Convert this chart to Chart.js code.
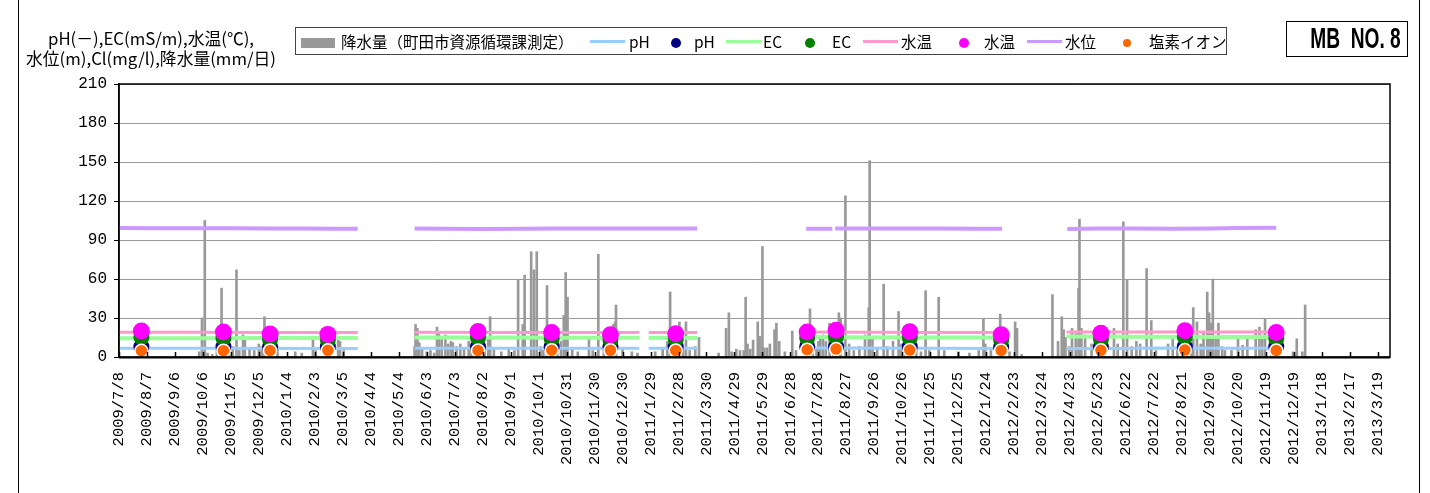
<!DOCTYPE html>
<html>
<head>
<meta charset="utf-8">
<script src="https://cdn.jsdelivr.net/npm/chart.js@4.4.0/dist/chart.umd.min.js"></script>
<style>
  body { margin: 0; background: #fff; }
  #wrap { position: relative; width: 1430px; height: 493px; overflow: hidden; font-family: "Noto Sans CJK JP", sans-serif; color: #000; }
  #frame { position: absolute; left: 18px; top: -2px; width: 1402px; height: 497px; border-left: 1px solid #000; border-right: 1px solid #000; box-sizing: border-box; }
  #chart { position: absolute; left: 0; top: 0; }
  #ytitle { position: absolute; left: 18px; top: 28px; width: 266px; text-align: center; font-size: 16.8px; line-height: 20px; white-space: nowrap; }
  #legend { position: absolute; left: 295px; top: 27px; width: 932px; height: 28px; border: 1px solid #444; box-sizing: border-box; }
  #legend .t { position: absolute; top: 3px; font-size: 15.5px; line-height: 20px; white-space: nowrap; }
  #legend .ln { position: absolute; top: 12px; width: 35px; height: 3px; }
  #legend .dot { position: absolute; border-radius: 50%; }
  #mb { position: absolute; left: 1286px; top: 21px; width: 122px; height: 36px; border: 1.5px solid #000; box-sizing: border-box; text-align: center; overflow: hidden; }
  #mb span { display: inline-block; font-family: "Liberation Sans", sans-serif; font-weight: bold; font-size: 29px; line-height: 33px; white-space: pre; transform: scaleX(0.66); transform-origin: center; }
</style>
</head>
<body>
<div id="wrap">
  <canvas id="chart" width="1430" height="493"></canvas>
  <div id="frame"></div>
  <div id="ytitle">pH(－),EC(mS/m),水温(℃),<br>水位(m),Cl(mg/l),降水量(mm/日)</div>
  <div id="legend"></div>
  <div id="mb"><span>MB  NO. 8</span></div>
</div>
<script>
// x axis runs in days counted from 2009/7/8
const startDate = '2009/7/8';
const endDate = '2013/4/1';

const tickLabels = ['2009/7/8','2009/8/7','2009/9/6','2009/10/6','2009/11/5','2009/12/5',
  '2010/1/4','2010/2/3','2010/3/5','2010/4/4','2010/5/4','2010/6/3','2010/7/3','2010/8/2','2010/9/1',
  '2010/10/1','2010/10/31','2010/11/30','2010/12/30','2011/1/29','2011/2/28','2011/3/30','2011/4/29',
  '2011/5/29','2011/6/28','2011/7/28','2011/8/27','2011/9/26','2011/10/26','2011/11/25','2011/12/25',
  '2012/1/24','2012/2/23','2012/3/24','2012/4/23','2012/5/23','2012/6/22','2012/7/22','2012/8/21',
  '2012/9/20','2012/10/20','2012/11/19','2012/12/19','2013/1/18','2013/2/17','2013/3/19'];

// daily rainfall [day, mm]
const rainfall = [
  [86,4],[89,30],[92,105],[95,3],[100,2],[105,6],[110,53],[113,4],[118,5],[122,8],[126,67],[129,5],
  [133,17],[135,15],[140,7],[145,5],[150,10],[153,8],[156,31],[158,14],[163,5],[170,8],[189,4],[196,3],
  [208,16],[211,5],[225,3],[235,16],[237,12],[241,5],
  [317,8],[318,25],[320,22],[322,11],[325,6],[330,4],[334,5],[338,3],[341,23],[343,19],[346,14],
  [350,17],[353,10],[356,12],[358,11],[362,8],[366,10],[370,6],[375,12],[378,8],[383,6],[388,10],
  [392,5],[396,14],[398,31],[402,6],[410,4],[418,7],[424,5],[428,59],[433,25],[435,63],[442,81],
  [445,67],[448,81],[452,8],[455,5],[459,55],[463,6],[470,8],[474,12],[477,32],[479,65],[481,46],
  [486,6],[492,4],[504,15],[508,5],[514,79],[520,5],[526,8],[530,25],[532,27],[533,40],[540,6],
  [550,4],[556,3],[575,4],[583,6],[588,12],[591,50],[595,8],[598,10],[601,27],[605,6],[608,27],
  [612,5],[618,8],[622,15],
  [643,3],[651,22],[654,34],[657,4],[662,6],[666,5],[670,5],[672,46],[674,10],[677,6],[680,13],
  [685,27],[687,16],[690,85],[692,7],[695,7],[698,10],[703,21],[705,26],[708,12],[714,4],[722,20],
  [726,5],[735,4],[741,37],[744,10],[748,6],[750,12],[752,15],[755,17],[758,12],[762,26],[766,8],
  [772,34],[774,30],[779,124],[783,10],[788,5],[794,8],[800,17],[804,38],[805,151],[808,15],[813,7],
  [820,56],[824,8],[830,12],[836,35],[839,10],[843,6],[855,8],[860,4],[865,51],[869,5],[879,46],
  [885,5],[900,4],[912,3],[922,5],[927,29],[929,10],[935,5],[945,33],[947,15],[955,4],[961,27],
  [963,22],[968,2],
  [1001,48],[1007,12],[1011,31],[1013,21],[1015,15],[1019,8],[1022,22],[1026,18],[1029,53],[1030,106],
  [1032,22],[1036,17],[1043,10],[1050,15],[1057,12],[1067,22],[1071,10],[1077,104],[1081,59],[1086,8],
  [1091,12],[1095,10],[1102,68],[1107,28],[1112,5],[1125,10],[1130,14],[1135,5],[1146,19],[1150,8],
  [1152,38],[1156,27],[1160,10],[1163,19],[1167,50],[1169,34],[1171,26],[1173,60],[1176,15],[1179,26],
  [1183,8],[1186,5],[1193,5],[1200,15],[1205,9],[1210,14],[1219,21],[1223,23],[1226,17],[1229,29],
  [1236,20],[1259,4],[1263,14],[1269,4],[1272,40]
];

// logger lines [day, value]; null value = gap
const levelLine = [
  [0,99.2],[40,99.1],[80,99.0],[120,99.0],[160,98.9],[200,98.8],[230,98.7],[256,98.6],[287,null],
  [317,98.8],[350,98.7],[390,98.5],[430,98.7],[470,98.8],[510,98.8],[550,98.9],[590,98.8],[620,98.8],[680,null],
  [737,98.6],[765,98.6],[766,null],[768,98.8],[800,98.9],[840,98.9],[880,98.8],[920,98.7],[947,98.7],[980,null],
  [1017,98.4],[1050,98.8],[1090,98.8],[1130,98.7],[1170,98.9],[1200,99.2],[1241,99.5]
];
const tempLine = [
  [0,19.0],[80,19.0],[160,18.9],[256,18.8],[287,null],
  [317,19.0],[400,18.9],[480,18.9],[558,18.8],[563,null],[568,18.8],[620,18.8],[680,null],
  [737,19.2],[800,19.0],[880,18.9],[947,18.9],[980,null],
  [1016,19.3],[1100,19.2],[1180,19.3],[1240,19.3]
];
const ecLine = [
  [0,14.4],[80,14.5],[160,14.7],[256,14.6],[287,null],
  [317,15.0],[400,15.0],[480,14.9],[558,14.8],[563,null],[568,14.8],[620,14.6],[680,null],
  [737,15.6],[780,15.2],[880,15.0],[947,15.0],[980,null],
  [1016,15.8],[1100,15.6],[1180,15.4],[1240,15.3]
];
const phLine = [
  [0,6.7],[100,6.7],[256,6.6],[287,null],
  [317,6.7],[480,6.8],[558,6.8],[563,null],[568,6.8],[620,6.7],[680,null],
  [737,7.0],[780,6.9],[880,6.7],[947,6.6],[980,null],
  [1016,6.6],[1080,6.5],[1100,6.9],[1240,6.8]
];

// spot measurements
const sampleDays = [24,112,162,224,385,464,527,597,738,769,848,946,1053,1143,1241];
const sampleTemp = [20.0,19.2,17.7,17.4,19.7,18.9,17.2,17.9,19.2,20.5,19.5,17.2,18.2,20.2,18.9];
const sampleEC   = [15.2,14.6,13.4,13.2,14.9,14.3,13.0,13.6,14.6,15.6,14.8,13.0,13.8,15.4,14.3];
const samplePH   = [7.9,8.0,7.8,7.9,8.0,7.9,7.8,7.9,8.1,8.0,7.9,7.7,7.8,7.9,8.0];
const sampleCl   = [4.8,4.9,5.0,5.1,5.0,5.2,5.1,5.0,5.6,6.1,5.3,5.0,5.1,5.3,5.0];

const dayOf = s => {
  const [y, m, d] = s.split('/').map(Number);
  const [y0, m0, d0] = startDate.split('/').map(Number);
  return Math.round((Date.UTC(y, m - 1, d) - Date.UTC(y0, m0 - 1, d0)) / 864e5);
};
const tickDays = tickLabels.map(dayOf);
const xy = arr => arr.map(p => ({ x: p[0], y: p[1] }));
const pts = vals => sampleDays.map((d, i) => ({ x: d, y: vals[i] }));

const lineDs = (label, data, color, width, order) => ({
  type: 'line', label, data: xy(data), borderColor: color, backgroundColor: color,
  borderWidth: width, pointRadius: 0, spanGaps: false, tension: 0, order
});
const dotDs = (label, vals, color, r, order, border) => ({
  type: 'line', label, data: pts(vals), showLine: false, pointRadius: r,
  pointBackgroundColor: color, pointBorderColor: border || color, pointBorderWidth: border ? 1.5 : 0,
  backgroundColor: color, borderColor: color, order
});

const datasets = [
  { type: 'bar', label: '降水量（町田市資源循環課測定）', data: xy(rainfall), backgroundColor: '#999999',
    barThickness: 2, order: 9 },
  lineDs('pH', phLine, '#99ccff', 3, 8),
  dotDs('pH', samplePH, '#000080', 8, 3),
  lineDs('EC', ecLine, '#99ff99', 4, 7),
  dotDs('EC', sampleEC, '#008000', 8, 2),
  lineDs('水温', tempLine, '#ff99cc', 3, 6),
  dotDs('水温', sampleTemp, '#ff00ff', 8.5, 1),
  lineDs('水位', levelLine, '#cc99ff', 4, 5),
  dotDs('塩素イオン', sampleCl, '#ff6600', 6.5, 0, '#ffffff')
];

// border of the plot area plus inward x ticks
const plotFrame = {
  id: 'plotFrame',
  afterDraw(chart) {
    const { ctx, chartArea: a } = chart;
    const x = chart.scales.x;
    ctx.save();
    ctx.strokeStyle = '#000';
    ctx.lineWidth = 1.5;
    ctx.strokeRect(a.left, a.top, a.right - a.left, a.bottom - a.top);
    ctx.beginPath();
    tickDays.forEach(d => {
      const px = Math.round(x.getPixelForValue(d)) + 0.5;
      ctx.moveTo(px, a.bottom);
      ctx.lineTo(px, a.bottom - 5);
    });
    ctx.lineWidth = 1.5;
    ctx.stroke();
    ctx.beginPath();
    ctx.moveTo(a.left, a.bottom + 0.5);
    ctx.lineTo(a.right, a.bottom + 0.5);
    ctx.lineWidth = 2;
    ctx.stroke();
    ctx.restore();
  }
};

new Chart(document.getElementById('chart'), {
  type: 'bar',
  data: { datasets },
  options: {
    responsive: false,
    animation: false,
    events: [],
    layout: { padding: { left: 19, right: 40, top: 84, bottom: 0 } },
    plugins: { legend: { display: false }, tooltip: { enabled: false } },
    scales: {
      x: {
        type: 'linear', min: 0, max: dayOf(endDate), offset: false,
        afterBuildTicks: s => { s.ticks = tickDays.map(v => ({ value: v })); },
        afterFit: s => { s.height = 136; },
        grid: { display: false },
        border: { display: false },
        ticks: {
          autoSkip: false, maxRotation: 90, minRotation: 90, padding: 7, color: '#000',
          font: { family: '"Liberation Mono", monospace', size: 15.5 },
          callback: (v, i) => tickLabels[i]
        }
      },
      y: {
        min: 0, max: 210,
        afterFit: s => { s.width = 100; },
        grid: { color: '#999', lineWidth: 1, tickLength: 5, tickColor: '#000' },
        border: { display: true, color: '#000', width: 1.5 },
        ticks: {
          stepSize: 30, padding: 7, color: '#000',
          font: { family: '"Liberation Mono", monospace', size: 16 }
        }
      }
    }
  },
  plugins: [plotFrame]
});

// legend box (positions follow the reference layout)
const legendItems = [
  { ds: 0, kind: 'rect', sx: 300, tx: 340 },
  { ds: 1, kind: 'line', sx: 589, tx: 628 },
  { ds: 2, kind: 'dot', sx: 675, tx: 693, r: 5 },
  { ds: 3, kind: 'line', sx: 725, tx: 762 },
  { ds: 4, kind: 'dot', sx: 809, tx: 831, r: 5 },
  { ds: 5, kind: 'line', sx: 862, tx: 900 },
  { ds: 6, kind: 'dot', sx: 963, tx: 983, r: 5 },
  { ds: 7, kind: 'line', sx: 1026, tx: 1064 },
  { ds: 8, kind: 'dot', sx: 1126, tx: 1148, r: 4 }
];
const leg = document.getElementById('legend');
const L0 = 295, T0 = 27;
legendItems.forEach(it => {
  const ds = datasets[it.ds];
  const color = ds.pointBackgroundColor || ds.borderColor || ds.backgroundColor;
  const sym = document.createElement('div');
  if (it.kind === 'rect') {
    sym.style.cssText = `position:absolute;left:${it.sx - L0}px;top:${37 - T0}px;width:34px;height:10px;background:${color}`;
  } else if (it.kind === 'line') {
    sym.className = 'ln';
    sym.style.left = (it.sx - L0) + 'px';
    sym.style.background = color;
  } else {
    sym.className = 'dot';
    sym.style.cssText += `left:${it.sx - L0 - it.r}px;top:${42 - T0 - it.r}px;width:${2 * it.r}px;height:${2 * it.r}px;background:${color}`;
  }
  leg.appendChild(sym);
  const t = document.createElement('div');
  t.className = 't';
  t.style.left = (it.tx - L0) + 'px';
  t.textContent = ds.label;
  leg.appendChild(t);
});
</script>
</body>
</html>
